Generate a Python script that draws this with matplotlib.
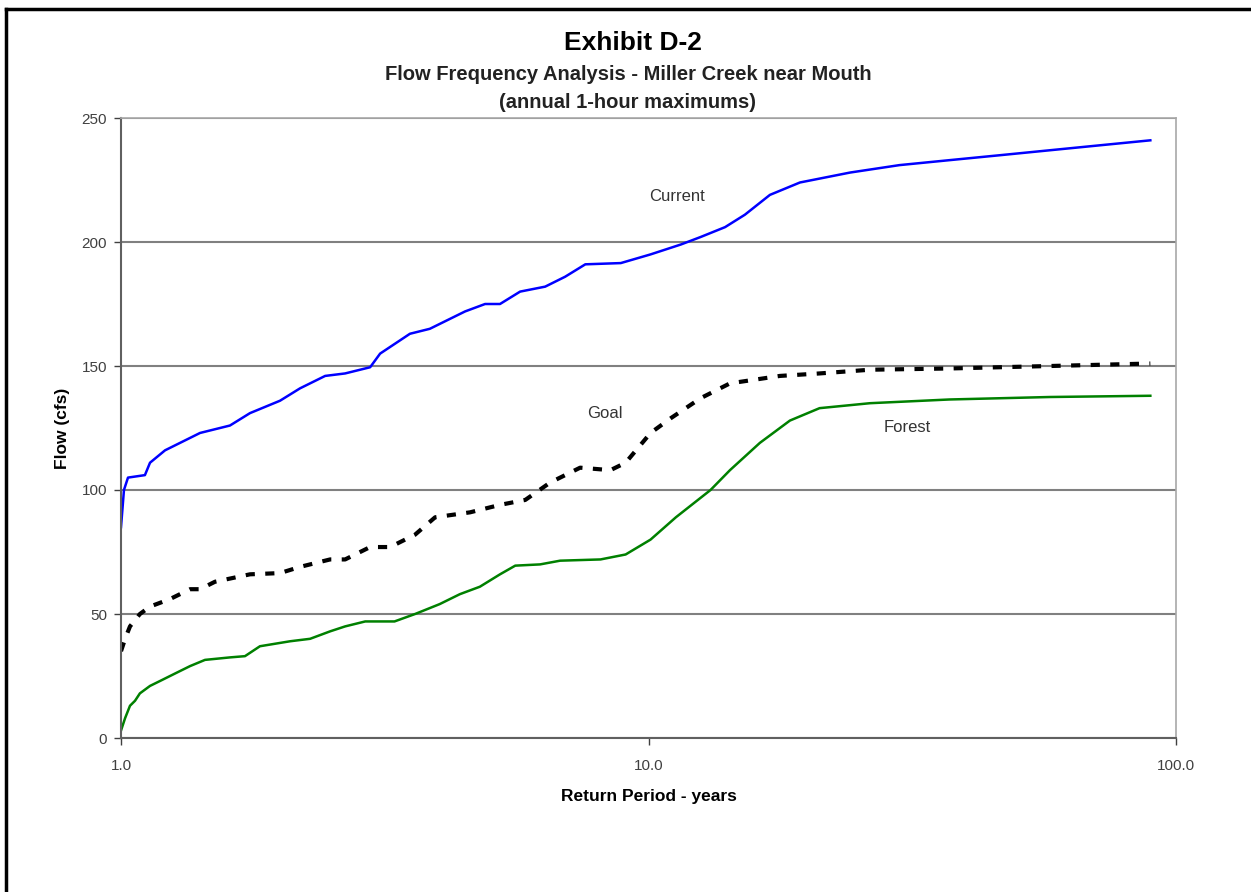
"""Flow frequency curves for Miller Creek near Mouth"""

import matplotlib.pyplot as plt
from matplotlib.lines import Line2D
from matplotlib.ticker import FixedLocator, NullLocator

plt.rcParams['font.family'] = ['Liberation Sans', 'DejaVu Sans']

# return period (years) and flow (cfs)
current_t = [1.0, 1.013, 1.031, 1.11, 1.135, 1.212, 1.294, 1.412, 1.609, 1.756, 2.002,
             2.185, 2.438, 2.66, 2.967, 3.099, 3.53, 3.85, 4.49, 4.9, 5.23, 5.71, 6.37,
             6.95, 7.59, 8.86, 10.09, 11.52, 12.55, 13.97, 15.23, 16.99, 19.37, 24.1,
             29.9, 37.2, 46.4, 57.7, 71.8, 89.4]
current_q = [85, 100, 105, 106, 111, 116, 119, 123, 126, 131, 136,
             141, 146, 147, 149.5, 155, 163, 165, 172, 175, 175, 180, 182,
             186, 191, 191.5, 195, 199, 202, 206, 211, 219, 224, 228,
             231, 233, 235, 237, 239, 241]

goal_t = [1.0, 1.018, 1.04, 1.086, 1.135, 1.238, 1.352, 1.412, 1.507, 1.756, 2.002,
          2.185, 2.491, 2.66, 2.967, 3.238, 3.61, 3.94, 4.59, 5.23, 5.84, 6.51, 7.42,
          8.47, 9.05, 10.09, 11.03, 12.55, 14.27, 17.75, 21.1, 26.3, 37.2, 57.7, 89.4]
goal_q = [35, 40, 45, 50, 53, 56, 60, 60, 63, 66, 66.5,
          69, 72, 72, 77, 77, 82, 89, 91, 94, 96, 103, 109,
          108, 111, 123, 129, 137, 143, 146, 147, 148.5, 149, 150, 151]

forest_t = [1.0, 1.018, 1.04, 1.063, 1.086, 1.135, 1.186, 1.266, 1.352, 1.443, 1.609,
            1.718, 1.834, 2.091, 2.283, 2.491, 2.66, 2.904, 3.30, 3.61, 4.02, 4.39,
            4.79, 5.23, 5.59, 6.23, 6.80, 8.11, 9.05, 10.09, 11.27, 13.11, 14.27,
            16.26, 18.54, 21.1, 26.3, 37.2, 57.7, 89.4]
forest_q = [3, 8, 13, 15, 18, 21, 23, 26, 29, 31.5, 32.5,
            33, 37, 39, 40, 43, 45, 47, 47, 50, 54, 58,
            61, 66, 69.5, 70, 71.5, 72, 74, 80, 89, 100, 108,
            119, 128, 133, 135, 136.5, 137.5, 138]

fig = plt.figure(figsize=(12.51, 8.92), dpi=100)
fig.set_facecolor('w')
ax = fig.add_axes([121 / 1251, 1 - 738 / 892, 1055 / 1251, 620 / 892])

ax.plot(current_t, current_q, color='#0000ff', lw=1.8)
ax.plot(goal_t, goal_q, color='black', lw=3, ls=(0, (2.2, 2.5)))
ax.plot(forest_t, forest_q, color='#008000', lw=1.8)

ax.set_xscale('log')
ax.set_xlim(1, 100)
ax.set_ylim(0, 250)
ax.xaxis.set_major_locator(FixedLocator([1, 10, 100]))
ax.xaxis.set_minor_locator(NullLocator())
ax.set_xticklabels(['1.0', '10.0', '100.0'])
ax.set_yticks([0, 50, 100, 150, 200, 250])
ax.tick_params(colors='#404040', labelsize=11, length=5, width=1, pad=5)
ax.tick_params(axis='x', pad=10)
ax.grid(axis='y', color='#808080', lw=1.5)
ax.set_axisbelow(True)
for side in ['left', 'bottom']:
    ax.spines[side].set_color('#606060')
    ax.spines[side].set_linewidth(1.5)
for side in ['top', 'right']:
    ax.spines[side].set_color('#a8a8a8')
    ax.spines[side].set_linewidth(1.2)

ax.text(11.33, 218.5, 'Current', fontsize=12, color='#333333', ha='center', va='center')
ax.text(8.27, 131, 'Goal', fontsize=12, color='#333333', ha='center', va='center')
ax.text(30.9, 125.4, 'Forest', fontsize=12, color='#333333', ha='center', va='center')

ax.set_xlabel('Return Period - years', fontsize=12.5, fontweight='bold', labelpad=12)
ax.set_ylabel('Flow (cfs)', fontsize=12.5, fontweight='bold', labelpad=8)

fig.text(633 / 1251, 1 - 43 / 892, 'Exhibit D-2', fontsize=19, fontweight='bold',
         ha='center', va='center')
fig.text(628 / 1251, 1 - 74 / 892, 'Flow Frequency Analysis - Miller Creek near Mouth',
         fontsize=14.5, fontweight='bold', color='#222222', ha='center', va='center')
fig.text(628 / 1251, 1 - 103 / 892, '(annual 1-hour maximums)',
         fontsize=14.5, fontweight='bold', color='#222222', ha='center', va='center')

# page frame: only the top and left edges fall inside the picture
fig.add_artist(Line2D([6 / 1251, 6 / 1251], [0, 1 - 9 / 892], color='black', lw=2.5,
                      transform=fig.transFigure))
fig.add_artist(Line2D([6 / 1251, 1], [1 - 9 / 892, 1 - 9 / 892], color='black', lw=2.5,
                      transform=fig.transFigure))

fig.savefig('out.png', dpi=100)
